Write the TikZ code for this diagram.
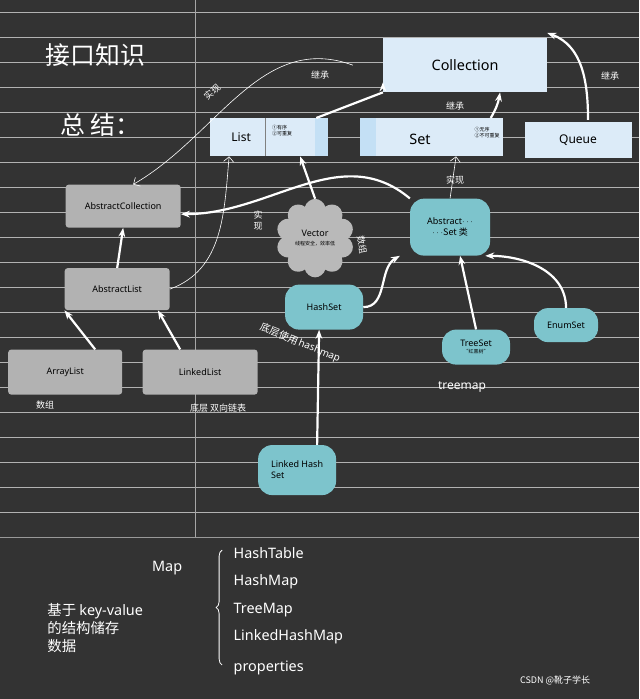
\documentclass[tikz,border=0pt]{standalone}
\usepackage{fontspec}
\setmainfont{Noto Sans}
\newfontfamily\cjk{Noto Sans CJK SC}
\usetikzlibrary{shapes.symbols,arrows.meta,decorations.pathreplacing}
\definecolor{boxblue}{RGB}{220,235,248}
\definecolor{stripblue}{RGB}{196,224,245}
\definecolor{tealfill}{RGB}{125,196,204}
\begin{document}
\begin{tikzpicture}[x=1pt,y=-1pt,
  boxnode/.style={draw=none, fill=boxblue, text=black, font=\large},
  greynode/.style={fill=gray!60, rounded corners=3pt, text=black, font=\small},
  tealnode/.style={fill=tealfill, rounded corners=14pt, text=black, font=\small},
  bigarrow/.style={white, line width=2.2pt, -{Stealth[length=9pt]}},
  thinarrow/.style={white, line width=0.6pt, -{Straight Barb[length=5pt]}},
  note/.style={white, font=\cjk\small}]
\fill[black!80] (0,0) rectangle (639,699);
\foreach \y in {12,37,...,537} \draw[gray!60, line width=0.4pt] (0,\y) -- (639,\y);
\draw[gray!70] (195,0) -- (195,537);
\draw[gray!80] (0,537) -- (639,537);
% titles
\node[white, font=\cjk\Huge] (t1) at (95,55) {接口知识};
\node[white, font=\cjk\Huge] (t2) at (100,125) {总\ 结：};
% interfaces
\node[boxnode, minimum width=164pt, minimum height=54pt, font=\Large] (coll) at (465,65) {Collection};
\node[boxnode, minimum width=107pt, minimum height=36pt] (queue) at (578,140) {Queue};
\node[boxnode, minimum width=118pt, minimum height=38pt] (list) at (269,137) {};
\fill[stripblue] (315,118) rectangle (328,156);
\draw[gray] (265,118) -- (265,156);
\node[font=\large] (listt) at (241,137) {List};
\node[font=\cjk\tiny, align=left] (listn) at (282,130) {①有序\\②可重复};
\node[boxnode, minimum width=143pt, minimum height=38pt] (set) at (431,137) {};
\fill[stripblue] (360,118) rectangle (376,156);
\node[font=\Large] (sett) at (420,139) {Set};
\node[font=\cjk\tiny, align=left] (setn) at (487,132) {①无序\\②不可重复};
% abstract classes
\node[greynode, minimum width=115pt, minimum height=43pt] (acoll) at (123,206) {AbstractCollection};
\node[greynode, minimum width=105pt, minimum height=42pt] (alist) at (117,289) {AbstractList};
\node[greynode, minimum width=114pt, minimum height=45pt] (arr) at (65,372) {ArrayList};
\node[greynode, minimum width=115pt, minimum height=45pt] (link) at (200,372) {LinkedList};
\node[cloud, cloud puffs=10, fill=gray!55, minimum width=72pt, minimum height=52pt, align=center, font=\small] (vec) at (315,238) {Vector\\[-2pt]{\cjk\tiny 线程安全，效率低}};
\node[tealnode, minimum width=80pt, minimum height=57pt, align=center, font=\small] (aset) at (450,227) {Abstract$\cdots$\\{\cjk $\cdots$Set 类}};
\node[tealnode, minimum width=78pt, minimum height=45pt] (hset) at (324,307) {HashSet};
\node[tealnode, minimum width=68pt, minimum height=35pt, align=center] (tset) at (476,347) {TreeSet\\[-4pt]{\cjk\tiny “红黑树”}};
\node[tealnode, minimum width=64pt, minimum height=34pt] (eset) at (566,325) {EnumSet};
\node[tealnode, minimum width=78pt, minimum height=50pt, align=left] (lhset) at (297,470) {Linked Hash\\Set};
% arrows
\draw[bigarrow] (list.north east) ++(-12,0) coordinate (l1) -- (coll.south west) ++(0,-10);
\draw[bigarrow] (set.north east) ++(-12,0) coordinate (s1) to[bend right=10] ([xshift=35pt]coll.south);
\draw[bigarrow] (queue.north) ++(10,-2) coordinate (q1) to[out=90, in=-20] ([yshift=5pt]coll.north east);
\draw[bigarrow] (vec.north) -- ([xshift=31pt]list.south);
\draw[thinarrow] (aset.north) -- ([xshift=25pt]set.south);
\draw[bigarrow] (aset.north west) to[out=140, in=0, looseness=1] ([yshift=-8pt]acoll.east);
\draw[bigarrow] (hset.east) to[out=0, in=210] ([xshift=-10pt]aset.south west);
\draw[bigarrow] (tset.north) -- ([xshift=10pt]aset.south);
\draw[bigarrow] (eset.north) to[out=90, in=0] ([xshift=-5pt]aset.south east);
\draw[bigarrow] ([xshift=20pt]lhset.north) -- ([xshift=-5pt]hset.south);
\draw[bigarrow] (alist.north) -- (acoll.south);
\draw[bigarrow] (arr.north) ++(30,0) coordinate (a1) -- (alist.south west);
\draw[bigarrow] (link.north) ++(-20,0) coordinate (k1) -- ([xshift=-12pt]alist.south east);
\draw[thinarrow] (alist.east) to[out=20, in=-95] ([xshift=-40pt]list.south);
\draw[thinarrow] ([xshift=-30pt]coll.west) to[out=160, in=30] ([xshift=10pt]acoll.north);
% labels
\node[note, rotate=40] (n1) at (212,92) {实现};
\node[note] (n2) at (320,75) {继承};
\node[note] (n3) at (610,76) {继承};
\node[note] (n4) at (455,106) {继承};
\node[note] (n5) at (455,180) {实现};
\node[note, align=center] (n6) at (258,220) {实\\现};
\node[note, rotate=-80] (n7) at (362,245) {数组};
\node[white, rotate=-22, font=\cjk] (n8) at (300,343) {底层使用\,{\rmfamily hashmap}};
\node[white, font=\large] (n9) at (462,387) {treemap};
\node[note] (n10) at (45,405) {数组};
\node[note] (n11) at (218,408) {底层\ 双向链表};
% map part
\node[white, font=\Large] (map) at (167,568) {Map};
\draw[white, line width=0.8pt, decorate, decoration={brace, amplitude=6pt}] (222,665) -- (222,550);
\foreach \t/\y in {HashTable/553, HashMap/582, TreeMap/610, LinkedHashMap/637, properties/668}
  \node[white, font=\Large, anchor=west] at (230,\y) {\t};
\node[white, font=\cjk\Large, align=left] (kv) at (95,628) {基于 {\rmfamily key-value}\\的结构储存\\数据};
\node[white, font=\cjk\small] (csdn) at (555,680) {CSDN @靴子学长};
\end{tikzpicture}
\end{document}
